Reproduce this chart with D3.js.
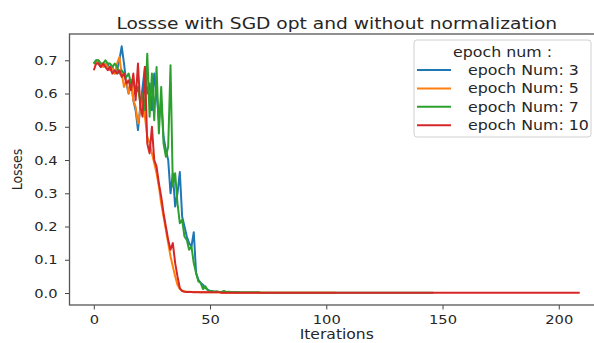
<!DOCTYPE html>
<html>
<head>
<meta charset="utf-8">
<script src="https://cdn.jsdelivr.net/npm/d3@7"></script>
<style>
  body { margin: 0; background: #fff; }
  text { font-family: "DejaVu Sans", sans-serif; fill: #262626; }
</style>
</head>
<body>
<div id="chart"></div>
<script>
// loss per iteration, one array per epoch setting
var epoch3 = [
  0.69, 0.70, 0.69, 0.68, 0.69, 0.68, 0.69, 0.67, 0.68, 0.66,
  0.67, 0.70, 0.742, 0.69, 0.63, 0.60, 0.64, 0.58, 0.55, 0.49,
  0.56, 0.62, 0.68, 0.60, 0.63, 0.55, 0.66, 0.60, 0.52, 0.58,
  0.47, 0.43, 0.40, 0.30, 0.36, 0.26, 0.30, 0.364, 0.23, 0.20,
  0.17, 0.15, 0.14, 0.183, 0.06, 0.04, 0.03, 0.025, 0.015, 0.01,
  0.006, 0.005, 0.004, 0.004, 0.003, 0.003, 0.003, 0.002, 0.002, 0.002,
  0.002, 0.002, 0.002
];
var epoch5 = [
  0.69, 0.69, 0.70, 0.69, 0.68, 0.69, 0.68, 0.67, 0.68, 0.66,
  0.69, 0.71, 0.66, 0.62, 0.64, 0.60, 0.64, 0.58, 0.56, 0.51,
  0.55, 0.58, 0.53, 0.47, 0.45, 0.42, 0.39, 0.36, 0.32, 0.27,
  0.23, 0.19, 0.15, 0.11, 0.08, 0.05, 0.025, 0.012, 0.007, 0.005,
  0.004, 0.004, 0.003, 0.003, 0.003, 0.003, 0.002, 0.002, 0.002, 0.002,
  0.002, 0.002, 0.002, 0.002, 0.002, 0.001, 0.001, 0.001, 0.001, 0.001,
  0.001, 0.001, 0.001, 0.001, 0.001, 0.001, 0.001, 0.001, 0.001, 0.001,
  0.001, 0.001, 0.001, 0.001, 0.001, 0.001, 0.001, 0.001, 0.001, 0.001,
  0.001, 0.001, 0.001, 0.001, 0.001, 0.001, 0.001, 0.001, 0.001, 0.001,
  0.001, 0.001, 0.001, 0.001, 0.001, 0.001, 0.001, 0.001, 0.001, 0.001,
  0.001, 0.001, 0.001, 0.001, 0.001
];
var epoch7 = [
  0.69, 0.70, 0.70, 0.69, 0.69, 0.70, 0.69, 0.69, 0.68, 0.69,
  0.68, 0.66, 0.67, 0.66, 0.65, 0.66, 0.63, 0.64, 0.60, 0.62,
  0.57, 0.60, 0.55, 0.72, 0.53, 0.66, 0.52, 0.68, 0.48, 0.62,
  0.45, 0.41, 0.44, 0.685, 0.32, 0.36, 0.27, 0.21, 0.22, 0.17,
  0.16, 0.13, 0.14, 0.09, 0.06, 0.035, 0.03, 0.012, 0.02, 0.008,
  0.006, 0.005, 0.004, 0.005, 0.003, 0.004, 0.006, 0.003, 0.004, 0.003,
  0.003, 0.002, 0.003, 0.002, 0.002, 0.002, 0.002, 0.002, 0.002, 0.002,
  0.002, 0.002, 0.001, 0.001, 0.001, 0.001, 0.001, 0.001, 0.001, 0.001,
  0.001, 0.001, 0.001, 0.001, 0.001, 0.001, 0.001, 0.001, 0.001, 0.001,
  0.001, 0.001, 0.001, 0.001, 0.001, 0.001, 0.001, 0.001, 0.001, 0.001,
  0.001, 0.001, 0.001, 0.001, 0.001, 0.001, 0.001, 0.001, 0.001, 0.001,
  0.001, 0.001, 0.001, 0.001, 0.001, 0.001, 0.001, 0.001, 0.001, 0.001,
  0.001, 0.001, 0.001, 0.001, 0.001, 0.001, 0.001, 0.001, 0.001, 0.001,
  0.001, 0.001, 0.001, 0.001, 0.001, 0.001, 0.001, 0.001, 0.001, 0.001,
  0.001, 0.001, 0.001, 0.001, 0.001, 0.001, 0.001
];
var epoch10 = [
  0.67, 0.69, 0.69, 0.68, 0.69, 0.68, 0.67, 0.68, 0.66, 0.67,
  0.66, 0.67, 0.65, 0.66, 0.63, 0.64, 0.61, 0.66, 0.58, 0.69,
  0.56, 0.53, 0.68, 0.45, 0.42, 0.50, 0.40, 0.38, 0.33, 0.29,
  0.24, 0.20, 0.16, 0.13, 0.15, 0.09, 0.05, 0.015, 0.006, 0.004,
  0.003, 0.003, 0.003, 0.002, 0.002, 0.002, 0.002, 0.002, 0.002, 0.002,
  0.002, 0.002, 0.002, 0.002, 0.002, 0.001, 0.001, 0.001, 0.001, 0.001,
  0.001, 0.001, 0.001, 0.001, 0.001, 0.001, 0.001, 0.001, 0.001, 0.001,
  0.001, 0.001, 0.001, 0.001, 0.001, 0.001, 0.001, 0.001, 0.001, 0.001,
  0.001, 0.001, 0.001, 0.001, 0.001, 0.001, 0.001, 0.001, 0.001, 0.001,
  0.001, 0.001, 0.001, 0.001, 0.001, 0.001, 0.001, 0.001, 0.001, 0.001,
  0.001, 0.001, 0.001, 0.001, 0.001, 0.001, 0.001, 0.001, 0.001, 0.001,
  0.001, 0.001, 0.001, 0.001, 0.001, 0.001, 0.001, 0.001, 0.001, 0.001,
  0.001, 0.001, 0.001, 0.001, 0.001, 0.001, 0.001, 0.001, 0.001, 0.001,
  0.001, 0.001, 0.001, 0.001, 0.001, 0.001, 0.001, 0.001, 0.001, 0.001,
  0.001, 0.001, 0.001, 0.001, 0.001, 0.001, 0.001, 0.001, 0.001, 0.001,
  0.001, 0.001, 0.001, 0.001, 0.001, 0.001, 0.001, 0.001, 0.001, 0.001,
  0.001, 0.001, 0.001, 0.001, 0.001, 0.001, 0.001, 0.001, 0.001, 0.001,
  0.001, 0.001, 0.001, 0.001, 0.001, 0.001, 0.001, 0.001, 0.001, 0.001,
  0.001, 0.001, 0.001, 0.001, 0.001, 0.001, 0.001, 0.001, 0.001, 0.001,
  0.001, 0.001, 0.001, 0.001, 0.001, 0.001, 0.001, 0.001, 0.001, 0.001,
  0.001, 0.001, 0.001, 0.001, 0.001, 0.001, 0.001, 0.001, 0.001, 0.001
];

var seriesNames = ["epoch Num: 3", "epoch Num: 5", "epoch Num: 7", "epoch Num: 10"];
var seriesColors = ["#1f77b4", "#ff7f0e", "#2ca02c", "#d62728"];
var xTicks = [0, 50, 100, 150, 200];
var yTicks = [0.0, 0.1, 0.2, 0.3, 0.4, 0.5, 0.6, 0.7];

var allSeries = [epoch3, epoch5, epoch7, epoch10];

var W = 594, H = 343;
var SX = 1.13; // picture is a bit stretched sideways, so is the text
var margin = { top: 34, right: -10, bottom: 38, left: 69.5 };
var width = W - margin.left - margin.right,
  height = H - margin.top - margin.bottom;

var svg = d3
  .select("#chart")
  .append("svg")
  .attr("width", W)
  .attr("height", H);

// matplotlib style 5% padding on both axes
var maxLen = d3.max(allSeries, function (s) { return s.length - 1; });
var xPad = maxLen * 0.05;
var x = d3.scaleLinear().domain([-xPad, maxLen + xPad]).range([0, width]);

var yMin = d3.min(allSeries, function (s) { return d3.min(s); });
var yMax = d3.max(allSeries, function (s) { return d3.max(s); });
var yPad = (yMax - yMin) * 0.05;
var y = d3.scaleLinear().domain([yMin - yPad, yMax + yPad]).range([height, 0]);

var g = svg
  .append("g")
  .attr("transform", "translate(" + margin.left + "," + margin.top + ")");

g.append("clipPath")
  .attr("id", "plotClip")
  .append("rect")
  .attr("width", width)
  .attr("height", height);

// the lines
var line = d3
  .line()
  .x(function (d, i) { return x(i); })
  .y(function (d) { return y(d); });

g.append("g")
  .attr("clip-path", "url(#plotClip)")
  .selectAll("path")
  .data(allSeries)
  .enter()
  .append("path")
  .attr("fill", "none")
  .attr("stroke", function (d, i) { return seriesColors[i]; })
  .attr("stroke-width", 2)
  .attr("stroke-linejoin", "round")
  .attr("d", line);

// axes
var xAxis = g
  .append("g")
  .attr("transform", "translate(0," + height + ")")
  .call(d3.axisBottom(x).tickValues(xTicks).tickSize(4.5).tickPadding(5.3).tickFormat(d3.format("d")));
var yAxis = g
  .append("g")
  .call(d3.axisLeft(y).tickValues(yTicks).tickSize(4.5).tickPadding(6).tickFormat(d3.format(".1f")));

[xAxis, yAxis].forEach(function (ax) {
  ax.select(".domain").remove();
  ax.selectAll("line").attr("stroke", "#444").attr("stroke-width", 1);
  ax.selectAll("text")
    .style("font-family", "DejaVu Sans")
    .style("font-size", "13px")
    .attr("fill", "#262626")
    .attr("transform", "scale(" + SX + ",1)");
});

// frame
g.append("rect")
  .attr("width", width)
  .attr("height", height)
  .attr("fill", "none")
  .attr("stroke", "#555")
  .attr("stroke-width", 1.3);

function stretchedText(px, py, str, size, anchor, rot) {
  return svg
    .append("text")
    .attr("transform", "translate(" + px + "," + py + ")" + (rot ? " rotate(" + rot + ")" : "") + " scale(" + (rot ? "1," + SX : SX + ",1") + ")")
    .attr("text-anchor", anchor)
    .style("font-size", size + "px")
    .text(str);
}

// title and axis labels
stretchedText(margin.left + width / 2, 29, "Lossse with SGD opt and without normalization", 16.5, "middle");
stretchedText(margin.left + width / 2, 339, "Iterations", 13.8, "middle");
stretchedText(21.5, margin.top + height / 2, "Losses", 12.5, "middle", -90);

// legend
var leg = svg.append("g").attr("transform", "translate(414,40)");
leg.append("rect")
  .attr("width", 177)
  .attr("height", 97)
  .attr("rx", 3)
  .attr("fill", "white")
  .attr("fill-opacity", 0.8)
  .attr("stroke", "#d0d0d0");

leg.append("text")
  .attr("transform", "translate(88.5,16.5) scale(" + SX + ",1)")
  .attr("text-anchor", "middle")
  .style("font-size", "14px")
  .text("epoch num :");

var items = leg
  .selectAll(".item")
  .data(seriesNames)
  .enter()
  .append("g")
  .attr("class", "item")
  .attr("transform", function (d, i) { return "translate(0," + (30 + i * 18.4) + ")"; });

items.append("line")
  .attr("x1", 3)
  .attr("x2", 37)
  .attr("stroke", function (d, i) { return seriesColors[i]; })
  .attr("stroke-width", 2);

items.append("text")
  .attr("transform", "translate(54,5) scale(" + SX + ",1)")
  .style("font-size", "14px")
  .text(function (d) { return d; });
</script>
</body>
</html>
